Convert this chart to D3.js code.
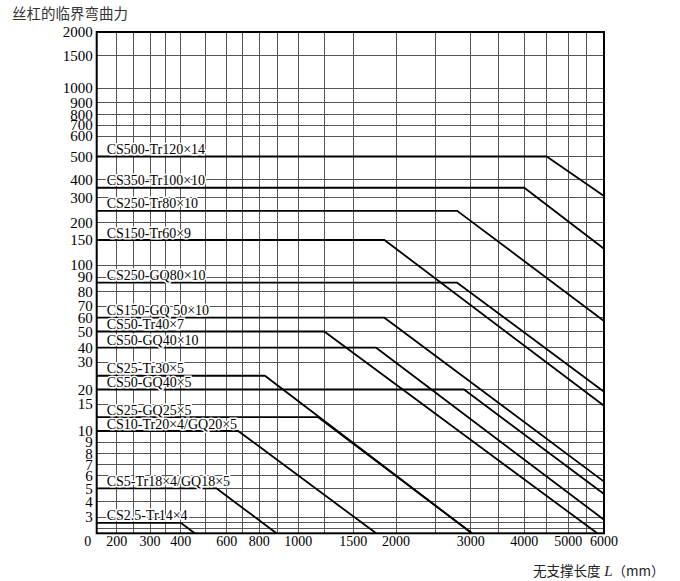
<!DOCTYPE html>
<html><head><meta charset="utf-8">
<script src="https://cdn.jsdelivr.net/npm/d3@7"></script>
<style>body{margin:0;background:#fff}</style>
</head><body>
<svg id="chart" width="680" height="581"></svg>
<script>
// ---------------- data ----------------
const chartTitle = "丝杠的临界弯曲力";
const xTitleText = "无支撑长度";
const xTitleVar = "L";
const xTitleUnit = "（mm）";
const originLabel = "0";

// tick labels
const yTickValues = [2000,1500,1000,900,800,700,600,500,400,300,200,150,100,90,80,70,60,50,40,30,20,15,10,9,8,7,6,5,4,3];
const yExtraGrid = [2.5, 2.1];
const xTickValues = [200,300,400,600,800,1000,1500,2000,3000,4000,5000,6000];
const xExtraGrid = [250,350,500,700,900,1200,2500,3500,4500,5500];

// series: name, plateau force, length where the plateau ends, end point of the falling part
const seriesNames = ["CS500-Tr120×14","CS350-Tr100×10","CS250-Tr80×10","CS150-Tr60×9","CS250-GQ80×10",
  "CS150-GQ 50×10","CS50-Tr40×7","CS50-GQ40×10","CS25-Tr30×5","CS50-GQ40×5","CS25-GQ25×5",
  "CS10-Tr20×4/GQ20×5","CS5-Tr18×4/GQ18×5","CS2.5-Tr14×4"];
const plateauForce = [500,350,242,150,86,60,50,40,24.5,20,12.3,10,5,2.5];
const breakLength  = [4500,4000,2800,1850,2800,1850,1200,1750,830,2900,1150,670,550,400];
const endLength    = [6000,6000,6000,6000,6000,6000,5800,6000,3020,6000,3020,1750,895,455];
const endForce     = [307,130,57.5,14.6,19.1,5.5,1.8,2.75,1.8,4.55,1.8,1.8,1.8,1.8];

// ---------------- layout (axis calibration of the printed, hand-drawn log grid) ----------------
const xMin = 150, yMin = 1.8;
const xCalDomain = [xMin,200,250,300,350,400,500,600,700,800,900,1000,1200,1500,2000,2500,3000,3500,4000,4500,5000,5500,6000];
const xCalRange  = [96.7,116.7,133.3,150,165.7,180.7,205,226.7,242.7,259.3,277.3,298.3,324.3,353.3,396,435,470.7,498.3,524.3,546.7,568.3,586.7,604];
const yCalDomain = [2000,1500,1000,900,800,700,600,500,400,300,200,150,100,90,80,70,60,50,40,30,20,15,10,9,8,7,6,5,4,3,yMin];
const yCalRange  = [32,55.5,88,102.5,114.3,125,136,156.5,179.3,197.5,222.7,240,265,277,291.7,306,317.7,331.5,347.7,362,389.5,404,431,442,453.3,464.5,475.5,488.3,501.7,517,533.3];

(function () {
const x = d3.scaleLog().domain(xCalDomain).range(xCalRange);
const y = d3.scaleLog().domain(yCalDomain).range(yCalRange);

const svg = d3.select("#chart");
const serif = "'Liberation Serif','Times New Roman',serif";
const cjk = "'Noto Sans CJK SC','Noto Sans',sans-serif";

const pLeft = x(xMin), pRight = x(6000), pTop = y(2000), pBottom = y(yMin);

// grid
const g = svg.append("g");
g.selectAll("line.vg").data(xTickValues.concat(xExtraGrid)).join("line")
  .attr("x1", d => x(d)).attr("x2", d => x(d)).attr("y1", pTop).attr("y2", pBottom)
  .attr("stroke", "#555").attr("stroke-width", 1).attr("shape-rendering","crispEdges");
g.selectAll("line.hg").data(yTickValues.concat(yExtraGrid)).join("line")
  .attr("y1", d => y(d)).attr("y2", d => y(d)).attr("x1", pLeft).attr("x2", pRight)
  .attr("stroke", "#555").attr("stroke-width", 1).attr("shape-rendering","crispEdges");

// series
const line = d3.line().x(d => x(d[0])).y(d => y(d[1]));
seriesNames.forEach((name, i) => {
  const pts = [[xMin, plateauForce[i]], [breakLength[i], plateauForce[i]], [endLength[i], endForce[i]]];
  svg.append("path").attr("d", line(pts)).attr("fill","none")
    .attr("stroke","#000").attr("stroke-width",1.8).attr("stroke-linejoin","round");
});

// series labels
svg.append("g").selectAll("text").data(seriesNames).join("text")
  .attr("x", pLeft + 10).attr("y", (d,i) => y(plateauForce[i]) - 2.5)
  .attr("font-family", serif).attr("font-size", 14).attr("fill","#000")
  .attr("stroke","#fff").attr("stroke-width",3).attr("paint-order","stroke")
  .text(d => d);

// frame
svg.append("rect").attr("x", pLeft).attr("y", pTop).attr("width", pRight-pLeft).attr("height", pBottom-pTop)
  .attr("fill","none").attr("stroke","#000").attr("stroke-width",2);

// y axis labels
svg.append("g").selectAll("text").data(yTickValues).join("text")
  .attr("x", pLeft - 4).attr("y", d => y(d)).attr("dy","0.35em")
  .attr("text-anchor","end").attr("font-family", serif).attr("font-size", 15).attr("fill","#000")
  .text(d => d);

// x axis labels
svg.append("g").selectAll("text").data(xTickValues).join("text")
  .attr("x", d => x(d)).attr("y", pBottom + 13)
  .attr("text-anchor","middle").attr("font-family", serif).attr("font-size", 14).attr("fill","#000")
  .text(d => d);
svg.append("text").attr("x", pLeft - 9).attr("y", pBottom + 13).attr("text-anchor","middle")
  .attr("font-family", serif).attr("font-size", 14).text(originLabel);

// titles
svg.append("text").attr("x", 12).attr("y", 18.5).attr("font-family", cjk).attr("font-size", 14.5)
  .attr("fill","#333").text(chartTitle);
const xt = svg.append("text").attr("x", 533).attr("y", 576).attr("font-size", 13.5).attr("fill","#222");
xt.append("tspan").attr("font-family", cjk).text(xTitleText);
xt.append("tspan").attr("font-family", serif).attr("font-style","italic").attr("font-size",15).text(" " + xTitleVar);
xt.append("tspan").attr("font-family", cjk).text(xTitleUnit);
})();
</script>
</body></html>
